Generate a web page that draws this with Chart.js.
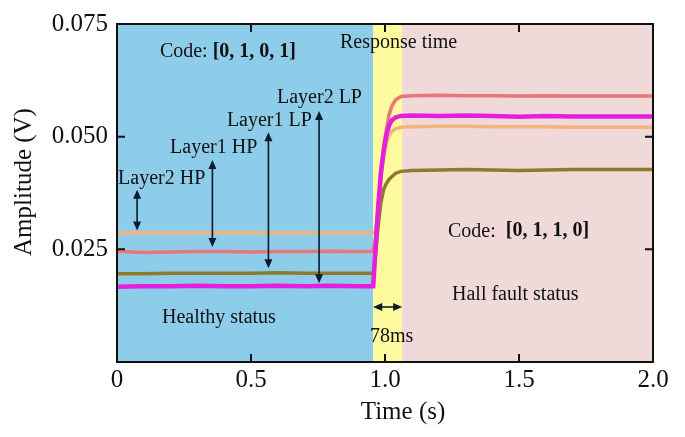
<!DOCTYPE html>
<html>
<head>
<meta charset="utf-8">
<script src="https://cdn.jsdelivr.net/npm/chart.js@4/dist/chart.umd.min.js"></script>
<style>
  html, body { margin: 0; padding: 0; background: #ffffff; }
  #wrap { width: 685px; height: 437px; }
</style>
</head>
<body>
<div id="wrap"><canvas id="c" width="685" height="437"></canvas></div>
<script>
// ---- data ----
const timeValues = [0, 0.1, 0.2, 0.3, 0.4, 0.5, 0.6, 0.7, 0.8, 0.9,
  0.956, 0.965, 0.975, 0.985, 0.995, 1.005, 1.015, 1.025, 1.04, 1.06,
  1.1, 1.2, 1.3, 1.4, 1.5, 1.6, 1.7, 1.8, 1.9, 2.0];

const layer2LP = [0.0167, 0.0168, 0.0168, 0.0169, 0.0168, 0.0168, 0.0169, 0.0168, 0.0169, 0.0168,
  0.0168, 0.0255, 0.0347, 0.0421, 0.0468, 0.0503, 0.0525, 0.0536, 0.0543, 0.0546,
  0.0547, 0.0546, 0.0547, 0.0546, 0.0544, 0.0546, 0.0545, 0.0545, 0.0545, 0.0545];

const layer1HP = [0.0246, 0.0243, 0.0244, 0.0245, 0.0245, 0.0244, 0.0245, 0.0245, 0.0246, 0.0245,
  0.0245, 0.0275, 0.0350, 0.0425, 0.0478, 0.0515, 0.0548, 0.0567, 0.0582, 0.0589,
  0.0591, 0.0592, 0.0591, 0.0591, 0.0590, 0.0591, 0.0590, 0.0590, 0.0590, 0.0590];

const layer2HP = [0.0286, 0.0287, 0.0286, 0.0286, 0.0287, 0.0287, 0.0286, 0.0286, 0.0286, 0.0286,
  0.0286, 0.0290, 0.0340, 0.0410, 0.0455, 0.0485, 0.0502, 0.0511, 0.0518, 0.0521,
  0.0522, 0.0523, 0.0523, 0.0522, 0.0522, 0.0522, 0.0521, 0.0521, 0.0521, 0.0521];

const layer1LP = [0.0196, 0.0196, 0.0197, 0.0197, 0.0197, 0.0197, 0.0198, 0.0197, 0.0197, 0.0197,
  0.0197, 0.0240, 0.0305, 0.0355, 0.0383, 0.0396, 0.0405, 0.0411, 0.0419, 0.0423,
  0.0425, 0.0426, 0.0427, 0.0426, 0.0425, 0.0426, 0.0427, 0.0427, 0.0427, 0.0427];

const xTickValues = [0, 0.5, 1.0, 1.5, 2.0];
const xTickLabels = ['0', '0.5', '1.0', '1.5', '2.0'];
const yTickValues = [0.025, 0.05, 0.075];
const yTickLabels = ['0.025', '0.050', '0.075'];

const regionBounds = [0, 0.956, 1.064, 2.0];   // healthy | response time | fault

// ---- helpers ----
function toPoints(ys) { return timeValues.map((t, i) => ({ x: t, y: ys[i] })); }
const SERIF = '"Liberation Serif", "Times New Roman", serif';
const INK = '#111111';

const decorPlugin = {
  id: 'decor',
  beforeDatasetsDraw(chart, args, opts) {
    const { ctx, chartArea: a, scales: { x } } = chart;
    ctx.save();
    for (let i = 0; i < regionBounds.length - 1; i++) {
      const x0 = x.getPixelForValue(regionBounds[i]);
      const x1 = x.getPixelForValue(regionBounds[i + 1]);
      ctx.fillStyle = opts.regionColors[i];
      ctx.fillRect(x0, a.top, x1 - x0, a.bottom - a.top);
    }
    ctx.restore();
  },
  afterDatasetsDraw(chart, args, opts) {
    const { ctx, chartArea: a, scales: { x, y } } = chart;
    ctx.save();
    // frame
    ctx.strokeStyle = INK;
    ctx.lineWidth = 2;
    ctx.strokeRect(a.left, a.top, a.right - a.left, a.bottom - a.top);
    // inward tick marks
    ctx.lineWidth = 2;
    const tl = 8;
    xTickValues.forEach(v => {
      if (v <= x.min || v >= x.max) return;
      const px = x.getPixelForValue(v);
      ctx.beginPath();
      ctx.moveTo(px, a.bottom); ctx.lineTo(px, a.bottom - tl);
      ctx.moveTo(px, a.top); ctx.lineTo(px, a.top + tl);
      ctx.stroke();
    });
    yTickValues.forEach(v => {
      if (v <= y.min || v >= y.max) return;
      const py = y.getPixelForValue(v);
      ctx.beginPath();
      ctx.moveTo(a.left, py); ctx.lineTo(a.left + tl, py);
      ctx.moveTo(a.right, py); ctx.lineTo(a.right - tl, py);
      ctx.stroke();
    });

    // arrows
    const head = (tx, ty, dx, dy) => {
      const L = 9, W = 4;
      const bx = tx - dx * L, by = ty - dy * L;
      ctx.beginPath();
      ctx.moveTo(tx, ty);
      ctx.lineTo(bx - dy * W, by + dx * W);
      ctx.lineTo(bx + dy * W, by - dx * W);
      ctx.closePath();
      ctx.fill();
    };
    ctx.strokeStyle = opts.arrowColor;
    ctx.fillStyle = opts.arrowColor;
    ctx.lineWidth = 1.6;
    opts.vArrows.forEach(ar => {
      const px = x.getPixelForValue(ar.x);
      const pTop = y.getPixelForValue(ar.top);
      const pBot = y.getPixelForValue(ar.bottom);
      ctx.beginPath();
      ctx.moveTo(px, pTop + 6); ctx.lineTo(px, pBot - 6);
      ctx.stroke();
      head(px, pTop, 0, -1);
      head(px, pBot, 0, 1);
    });
    const h = opts.hArrow;
    const hx0 = x.getPixelForValue(h.x1), hx1 = x.getPixelForValue(h.x2), hy = y.getPixelForValue(h.y);
    ctx.beginPath();
    ctx.moveTo(hx0 + 6, hy); ctx.lineTo(hx1 - 6, hy);
    ctx.stroke();
    head(hx0, hy, -1, 0);
    head(hx1, hy, 1, 0);

    // annotation texts
    ctx.fillStyle = INK;
    ctx.textBaseline = 'middle';
    ctx.textAlign = 'left';
    opts.texts.forEach(tx => {
      let px = x.getPixelForValue(tx.x);
      const py = y.getPixelForValue(tx.y);
      ctx.font = tx.size + 'px ' + SERIF;
      ctx.fillText(tx.text, px, py);
      if (tx.bold) {
        px += ctx.measureText(tx.text).width;
        ctx.font = 'bold ' + tx.size + 'px ' + SERIF;
        ctx.fillText(tx.bold, px, py);
      }
    });

    // axis titles
    ctx.font = '25px ' + SERIF;
    ctx.textAlign = 'center';
    ctx.fillText(opts.xTitle, (a.left + a.right) / 2 + 18, a.bottom + 50);
    ctx.save();
    ctx.translate(24, (a.top + a.bottom) / 2 - 11);
    ctx.rotate(-Math.PI / 2);
    ctx.fillText(opts.yTitle, 0, 0);
    ctx.restore();
    ctx.restore();
  }
};

const lineStyle = (color, w) => ({
  borderColor: color, backgroundColor: color, borderWidth: w,
  pointRadius: 0, tension: 0, fill: false
});

new Chart(document.getElementById('c'), {
  type: 'line',
  data: {
    datasets: [
      Object.assign({ label: 'Layer2 LP', data: toPoints(layer2LP) }, lineStyle('#E41FE0', 4.5)),
      Object.assign({ label: 'Layer1 HP', data: toPoints(layer1HP) }, lineStyle('#E6777A', 3.5)),
      Object.assign({ label: 'Layer2 HP', data: toPoints(layer2HP) }, lineStyle('#F2B47C', 3.5)),
      Object.assign({ label: 'Layer1 LP', data: toPoints(layer1LP) }, lineStyle('#8E7A2C', 3.5))
    ]
  },
  options: {
    responsive: false,
    animation: false,
    layout: { padding: { left: 0, right: 32, top: 18, bottom: 0 } },
    plugins: {
      legend: { display: false },
      tooltip: { enabled: false },
      decor: {
        regionColors: ['#8ECDEA', '#FDFB9E', '#EFD9D9'],
        arrowColor: '#0B1A2C',
        vArrows: [
          { x: 0.075, top: 0.0382, bottom: 0.0292 },
          { x: 0.356, top: 0.0448, bottom: 0.0255 },
          { x: 0.565, top: 0.0510, bottom: 0.0208 },
          { x: 0.754, top: 0.0557, bottom: 0.0175 }
        ],
        hArrow: { x1: 0.956, x2: 1.064, y: 0.0122 },
        texts: [
          { text: 'Code: ', bold: '[0, 1, 0, 1]', x: 0.160, y: 0.0689, size: 20 },
          { text: 'Response time', x: 0.832, y: 0.0709, size: 20 },
          { text: 'Layer2 LP', x: 0.597, y: 0.0587, size: 20 },
          { text: 'Layer1 LP', x: 0.410, y: 0.0535, size: 20 },
          { text: 'Layer1 HP', x: 0.198, y: 0.0475, size: 20 },
          { text: 'Layer2 HP', x: 0.004, y: 0.0406, size: 20 },
          { text: 'Healthy status', x: 0.168, y: 0.0098, size: 20 },
          { text: '78ms', x: 0.944, y: 0.0055, size: 20 },
          { text: 'Code:  ', bold: '[0, 1, 1, 0]', x: 1.235, y: 0.0290, size: 20 },
          { text: 'Hall fault status', x: 1.250, y: 0.0150, size: 20 }
        ],
        xTitle: 'Time (s)',
        yTitle: 'Amplitude (V)'
      }
    },
    scales: {
      x: {
        type: 'linear', min: 0, max: 2,
        afterBuildTicks: s => { s.ticks = xTickValues.map(v => ({ value: v })); },
        afterFit: s => { s.height = 75; },
        grid: { display: false, drawTicks: false },
        border: { display: false },
        ticks: {
          padding: 3, color: INK, maxRotation: 0, autoSkip: false,
          font: { family: SERIF, size: 25 },
          callback: (v) => { const i = xTickValues.indexOf(v); return i >= 0 ? xTickLabels[i] : ''; }
        }
      },
      y: {
        type: 'linear', min: 0, max: 0.075,
        afterBuildTicks: s => { s.ticks = yTickValues.map(v => ({ value: v })); },
        afterFit: s => { s.width = 117; },
        grid: { display: false, drawTicks: false },
        border: { display: false },
        ticks: {
          padding: 9, color: INK, autoSkip: false,
          font: { family: SERIF, size: 25 },
          callback: (v) => { const i = yTickValues.indexOf(v); return i >= 0 ? yTickLabels[i] : ''; }
        }
      }
    }
  },
  plugins: [decorPlugin]
});
</script>
</body>
</html>
